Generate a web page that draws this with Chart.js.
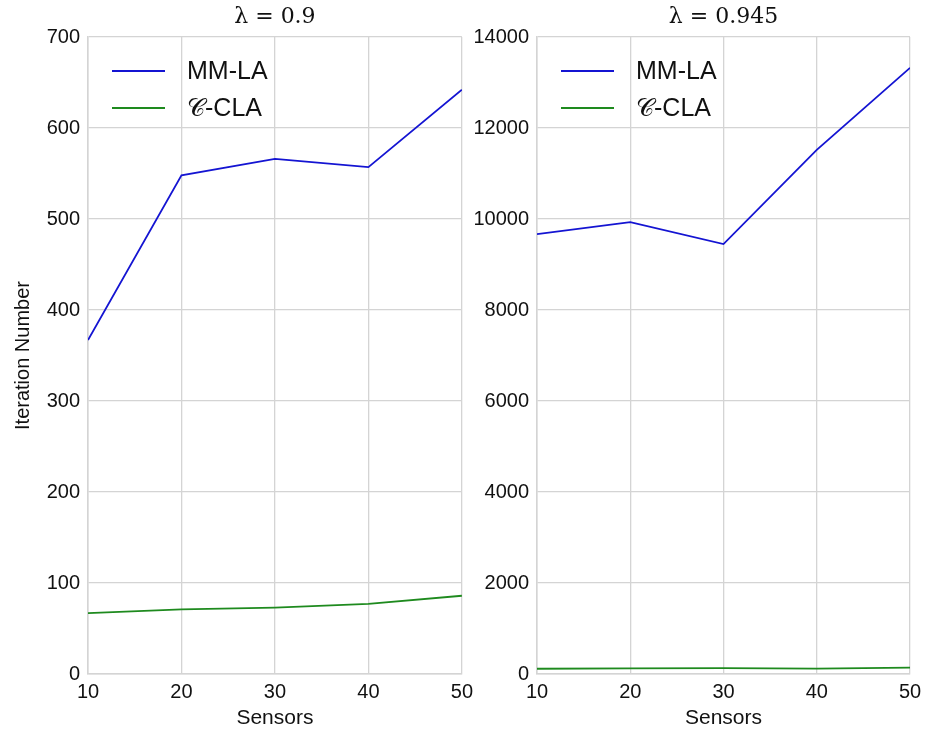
<!DOCTYPE html>
<html>
<head>
<meta charset="utf-8">
<script src="https://cdn.jsdelivr.net/npm/chart.js@4.4.1/dist/chart.umd.min.js"></script>
<style>
  body { margin: 0; background: #fff; }
  #wrap { position: relative; width: 936px; height: 731px; }
  canvas { position: absolute; top: 0; }
</style>
</head>
<body>
<div id="wrap">
  <canvas id="left" width="479" height="731" style="left:0;width:479px;height:731px"></canvas>
  <canvas id="right" width="468" height="731" style="left:468px;width:468px;height:731px"></canvas>
</div>
<script>
// sensors along x-axis
var sensors = [10, 20, 30, 40, 50];

// lambda = 0.9
var mmla1 = [367, 548, 566, 557, 642];
var ccla1 = [67, 71, 73, 77, 86];

// lambda = 0.945
var mmla2 = [9668, 9932, 9448, 11520, 13322];
var ccla2 = [115, 125, 130, 120, 140];

var labels = ["MM-LA", "\u{1D49E}-CLA"];
var colors = ["#1414d2", "#1e8a1e"];

var gridColor = "#d4d4d4";
var font = "'Liberation Sans', Arial, sans-serif";

function pts(ys) {
    return sensors.map(function (x, i) { return { x: x, y: ys[i] }; });
}

// legend inside the plot area + title centred over the plot area
var decorations = {
    id: "decorations",
    afterDraw: function (chart) {
        var ctx = chart.ctx;
        var a = chart.chartArea;
        ctx.save();
        ctx.fillStyle = "#111";
        ctx.textAlign = "center";
        ctx.textBaseline = "middle";
        ctx.font = "22px 'DejaVu Serif', serif";
        ctx.fillText(chart.options.plugins.decorations.title, (a.left + a.right) / 2, 17);

        ctx.textAlign = "left";
        ctx.font = "25px " + font;
        chart.data.datasets.forEach(function (ds, i) {
            var y = a.top + 34 + i * 37;
            ctx.strokeStyle = ds.borderColor;
            ctx.lineWidth = 1.8;
            ctx.beginPath();
            ctx.moveTo(a.left + 24, y);
            ctx.lineTo(a.left + 77, y);
            ctx.stroke();
            ctx.fillText(ds.label, a.left + 99, y + 1);
        });
        ctx.restore();
    }
};

function makeChart(id, title, a, b, yMax, yStep, yWidth, padRight, yTitle) {
    return new Chart(document.getElementById(id), {
        type: "line",
        data: {
            datasets: [
                { label: labels[0], data: pts(a), borderColor: colors[0], borderWidth: 1.8, pointRadius: 0, fill: false, tension: 0 },
                { label: labels[1], data: pts(b), borderColor: colors[1], borderWidth: 1.8, pointRadius: 0, fill: false, tension: 0 }
            ]
        },
        options: {
            responsive: false,
            animation: false,
            layout: { padding: { left: 0, right: padRight, top: 37, bottom: 0 } },
            plugins: {
                legend: { display: false },
                tooltip: { enabled: false },
                title: { display: false },
                decorations: { title: title }
            },
            scales: {
                x: {
                    type: "linear",
                    min: 10, max: 50,
                    ticks: { stepSize: 10, color: "#111", font: { family: font, size: 20 }, padding: 6,
                             callback: function (v) { return String(v); } },
                    grid: { color: gridColor, lineWidth: 1.3, drawTicks: false },
                    border: { color: gridColor, width: 1.5 },
                    title: { display: true, text: "Sensors", color: "#111", font: { family: font, size: 21 }, padding: { top: 0, bottom: 0 } },
                    afterFit: function (s) { s.height = 57; }
                },
                y: {
                    min: 0, max: yMax,
                    ticks: { stepSize: yStep, color: "#111", font: { family: font, size: 20 }, padding: 8,
                             callback: function (v) { return String(v); } },
                    grid: { color: gridColor, lineWidth: 1.3, drawTicks: false },
                    border: { color: gridColor, width: 1.5 },
                    title: { display: !!yTitle, text: yTitle || "", color: "#111", font: { family: font, size: 20 }, padding: { top: 11, bottom: 0 } },
                    afterFit: function (s) { s.width = yWidth; }
                }
            }
        },
        plugins: [decorations]
    });
}

makeChart("left", "\u03BB = 0.9", mmla1, ccla1, 700, 100, 88, 0, "Iteration Number");
makeChart("right", "\u03BB = 0.945", mmla2, ccla2, 14000, 2000, 69, 26, null);
</script>
</body>
</html>
